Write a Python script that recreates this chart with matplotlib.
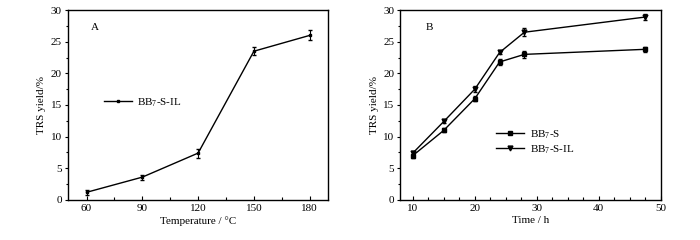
import matplotlib
matplotlib.use('Agg')
import matplotlib.pyplot as plt
from matplotlib.ticker import MultipleLocator
from matplotlib.lines import Line2D

plt.rcParams['font.family'] = 'Liberation Serif'
plt.rcParams['mathtext.fontset'] = 'custom'
plt.rcParams['mathtext.rm'] = 'Liberation Serif'
plt.rcParams['mathtext.it'] = 'Liberation Serif:italic'
plt.rcParams['font.size'] = 8

# Panel A: temperature
temp = [60, 90, 120, 150, 180]
temp_yield = [1.2, 3.6, 7.4, 23.5, 26.0]
temp_err = [0.4, 0.4, 0.7, 0.6, 0.8]

# Panel B: time
time_h = [10, 15, 20, 24, 28, 47.5]
bb7s_yield = [7.0, 11.0, 16.0, 21.8, 23.0, 23.8]
bb7s_err = [0.3, 0.3, 0.4, 0.5, 0.5, 0.4]
bb7sil_yield = [7.4, 12.4, 17.5, 23.3, 26.5, 28.9]
bb7sil_err = [0.3, 0.3, 0.5, 0.3, 0.6, 0.5]

fig = plt.figure(figsize=(7, 2.4), dpi=100)
ax1 = fig.add_axes([0.097, 0.167, 0.372, 0.791])
ax2 = fig.add_axes([0.572, 0.167, 0.372, 0.791])

ax1.errorbar(temp, temp_yield, yerr=temp_err, color='k', marker='s', ms=2,
             lw=1, capsize=1.5, elinewidth=0.8)
h1 = [Line2D([], [], color='k', marker='s', ms=2, lw=1)]
ax1.set_xlim(50, 190)
ax1.set_xticks(temp)
ax1.xaxis.set_minor_locator(MultipleLocator(15))
ax1.set_xlabel('Temperature / °C', labelpad=2)
ax1.text(64.5, 27.3, 'A', ha='center', va='center')
ax1.legend(h1, [r'BB$_7$-S-IL'], loc='upper left', bbox_to_anchor=(0.1, 0.6),
           frameon=False, handlelength=2.5, handletextpad=0.5)

ax2.errorbar(time_h, bb7s_yield, yerr=bb7s_err, color='k', marker='s', ms=3.5,
             lw=1, capsize=1.5, elinewidth=0.8)
ax2.errorbar(time_h, bb7sil_yield, yerr=bb7sil_err, color='k', marker='v', ms=3.5,
             lw=1, capsize=1.5, elinewidth=0.8)
h2 = [Line2D([], [], color='k', marker='s', ms=3.5, lw=1),
      Line2D([], [], color='k', marker='v', ms=3.5, lw=1)]
ax2.set_xlim(8, 50)
ax2.set_xticks([10, 20, 30, 40, 50])
ax2.xaxis.set_minor_locator(MultipleLocator(2.5))
ax2.set_xlabel('Time / h', labelpad=2)
ax2.text(12.6, 27.3, 'B', ha='center', va='center')
ax2.legend(h2, [r'BB$_7$-S', r'BB$_7$-S-IL'], loc='upper left',
           bbox_to_anchor=(0.33, 0.43), frameon=False,
           handlelength=2.5, handletextpad=0.5, labelspacing=0.2)

for ax in (ax1, ax2):
    ax.set_ylim(0, 30)
    ax.set_yticks([0, 5, 10, 15, 20, 25, 30])
    ax.yaxis.set_minor_locator(MultipleLocator(2.5))
    ax.set_ylabel('TRS yield/%', labelpad=3)
    ax.tick_params(axis='x', which='major', direction='in', length=3, width=0.8, pad=3)
    ax.tick_params(axis='x', which='minor', direction='in', length=2, width=0.8)
    ax.tick_params(axis='y', which='major', direction='out', length=2.5, width=0.8, pad=2)
    ax.tick_params(axis='y', which='minor', direction='out', length=1.5, width=0.8)
    for s in ax.spines.values():
        s.set_linewidth(1)

fig.savefig('out.png', dpi=100)
